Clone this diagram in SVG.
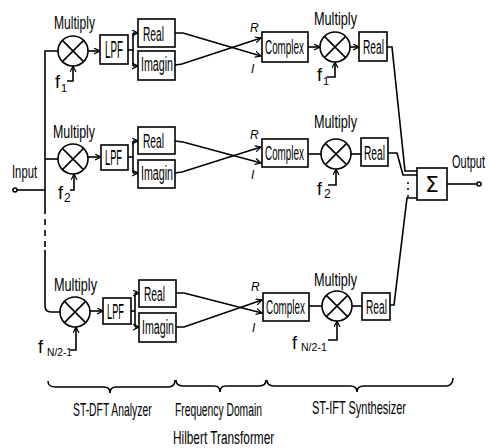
<svg xmlns="http://www.w3.org/2000/svg" width="489" height="448" viewBox="0 0 489 448">
<style>
.ln{fill:none;stroke:#000;stroke-width:1.6}
.bx{fill:#fff;stroke:#000;stroke-width:1.6}
.t{font-family:"Liberation Sans",Arial,sans-serif;fill:#000}
.mu{font-size:18px}
.rl{font-size:21px}
.cx{font-size:20px}
.lb{font-size:19px}
.sb{font-size:11px}
.ri{font-family:"Liberation Sans",Arial,sans-serif;font-style:italic;font-size:12px}
</style>
<defs>
<marker id="ah" markerWidth="7" markerHeight="7" refX="6" refY="3.5" orient="auto" markerUnits="userSpaceOnUse">
<path d="M0,0.5 L6,3.5 L0,6.5" fill="none" stroke="#000" stroke-width="1.2"/>
</marker>
</defs>
<rect width="489" height="448" fill="#fff"/>

<g id="connectors">
<path class="ln" d="M17,190 L45,190"/>
<path class="ln" d="M58,51 L45,51 L45,208"/>
<path class="ln" d="M45,208 L45,250" stroke-dasharray="6,5"/>
<path class="ln" d="M45,250 L45,306 Q45,312 51,312 L60,312"/>
<path class="ln" d="M45,159 L59,159"/>
<!-- row 1 -->
<path class="ln" d="M88,51 L100,51" marker-end="url(#ah)"/>
<path class="ln" d="M128,50 L133,50"/>
<path class="ln" d="M133,33 L133,66"/>
<path class="ln" d="M133,33 L138,33" marker-end="url(#ah)"/>
<path class="ln" d="M133,66 L138,66" marker-end="url(#ah)"/>
<path class="ln" d="M175,33 L183,33 L261,56" marker-end="url(#ah)"/>
<path class="ln" d="M175,65 L182,64 L261,38" marker-end="url(#ah)"/>
<path class="ln" d="M308,47 L320,47" marker-end="url(#ah)"/>
<path class="ln" d="M350,47 L359,47" marker-end="url(#ah)"/>
<path class="ln" d="M67,81 L73,81 L73,66" marker-end="url(#ah)"/>
<path class="ln" d="M327,77 L335,77 L335,62" marker-end="url(#ah)"/>
<!-- row 2 -->
<path class="ln" d="M88,157 L101,157" marker-end="url(#ah)"/>
<path class="ln" d="M128,157 L133,157"/>
<path class="ln" d="M133,141 L133,173"/>
<path class="ln" d="M133,141 L138,141" marker-end="url(#ah)"/>
<path class="ln" d="M133,173 L138,173" marker-end="url(#ah)"/>
<path class="ln" d="M175,141 L183,142 L261,163" marker-end="url(#ah)"/>
<path class="ln" d="M175,173 L182,172 L261,147" marker-end="url(#ah)"/>
<path class="ln" d="M308,154 L321,154"/>
<path class="ln" d="M351,154 L361,154"/>
<path class="ln" d="M70,190 L74,190 L74,174" marker-end="url(#ah)"/>
<path class="ln" d="M328,185 L336,185 L336,169" marker-end="url(#ah)"/>
<!-- row 3 -->
<path class="ln" d="M90,311 L103,311" marker-end="url(#ah)"/>
<path class="ln" d="M131,311 L135,311"/>
<path class="ln" d="M135,293 L135,327"/>
<path class="ln" d="M135,293 L139,293" marker-end="url(#ah)"/>
<path class="ln" d="M135,327 L139,327" marker-end="url(#ah)"/>
<path class="ln" d="M176,293 L184,293 L262,313" marker-end="url(#ah)"/>
<path class="ln" d="M176,327 L184,327 L262,300" marker-end="url(#ah)"/>
<path class="ln" d="M309,306 L322,306"/>
<path class="ln" d="M352,306 L362,306"/>
<path class="ln" d="M70,350 L76,350 L76,327" marker-end="url(#ah)"/>
<path class="ln" d="M328,340 L337,340 L337,321" marker-end="url(#ah)"/>
<!-- to summer -->
<path class="ln" d="M387,47 L392,47 L405,171 L417,171"/>
<path class="ln" d="M388,153 L397,153 L403,175 L417,175"/>
<path class="ln" d="M390,305 L394,305 L407,198 L417,198"/>
<path class="ln" d="M447,184 L477,184"/>
</g>

<g id="input">
<circle cx="15" cy="190" r="2" class="bx"/>
<text class="t mu" transform="translate(12,178) scale(0.625,1)">Input</text>
</g>

<g id="mult-l1">
<circle cx="73" cy="51" r="15" class="bx"/>
<path class="ln" d="M62.4,40.4 L83.6,61.6 M62.4,61.6 L83.6,40.4"/>
<text class="t mu" transform="translate(54,29) scale(0.672,1)">Multiply</text>
<text class="t mu" x="55" y="88">f</text><text class="t sb" x="61" y="92">1</text>
</g>
<g id="lpf1"><rect class="bx" x="100" y="35" width="28" height="29"/>
<text class="t" font-size="24" transform="translate(105,58) scale(0.41,1)">LPF</text></g>
<g id="real-a1"><rect class="bx" x="138" y="19" width="37" height="28"/>
<text class="t rl" transform="translate(143,40.5) scale(0.486,1)">Real</text></g>
<g id="imag1"><rect class="bx" x="138" y="51" width="37" height="29"/>
<text class="t rl" transform="translate(141,71) scale(0.508,1)">Imagin</text></g>
<g id="complex1"><rect class="bx" x="262" y="32" width="46" height="30"/>
<text class="t cx" transform="translate(265,53.5) scale(0.494,1)">Complex</text>
<text class="ri" x="250" y="32">R</text><text class="ri" x="251" y="73">I</text></g>
<g id="mult-r1">
<circle cx="335" cy="47" r="15" class="bx"/>
<path class="ln" d="M324.4,36.4 L345.6,57.6 M324.4,57.6 L345.6,36.4"/>
<text class="t mu" transform="translate(314,25) scale(0.705,1)">Multiply</text>
<text class="t mu" x="317" y="81">f</text><text class="t sb" x="323" y="85">1</text>
</g>
<g id="real-s1"><rect class="bx" x="359" y="32" width="28" height="29"/>
<text class="t rl" transform="translate(363,54) scale(0.486,1)">Real</text></g>

<g id="mult-l2">
<circle cx="73" cy="159" r="15" class="bx"/>
<path class="ln" d="M62.4,148.4 L83.6,169.6 M62.4,169.6 L83.6,148.4"/>
<text class="t mu" transform="translate(53,138) scale(0.69,1)">Multiply</text>
<text class="t mu" x="58" y="199">f</text><text class="t" font-size="12" x="64" y="202">2</text>
</g>
<g id="lpf2"><rect class="bx" x="101" y="145" width="27" height="25"/>
<text class="t" font-size="22" transform="translate(105,165) scale(0.42,1)">LPF</text></g>
<g id="real-a2"><rect class="bx" x="138" y="127" width="37" height="27"/>
<text class="t rl" transform="translate(143,148) scale(0.486,1)">Real</text></g>
<g id="imag2"><rect class="bx" x="138" y="160" width="37" height="28"/>
<text class="t rl" transform="translate(141,180) scale(0.508,1)">Imagin</text></g>
<g id="complex2"><rect class="bx" x="262" y="139" width="46" height="28"/>
<text class="t cx" transform="translate(265,160) scale(0.494,1)">Complex</text>
<text class="ri" x="250" y="139">R</text><text class="ri" x="251" y="179">I</text></g>
<g id="mult-r2">
<circle cx="336" cy="154" r="15" class="bx"/>
<path class="ln" d="M325.4,143.4 L346.6,164.6 M325.4,164.6 L346.6,143.4"/>
<text class="t mu" transform="translate(314,128) scale(0.705,1)">Multiply</text>
<text class="t mu" x="317" y="195">f</text><text class="t" font-size="12" x="324" y="198">2</text>
</g>
<g id="real-s2"><rect class="bx" x="361" y="138" width="27" height="28"/>
<text class="t rl" transform="translate(364,159.5) scale(0.486,1)">Real</text></g>

<g id="mult-l3">
<circle cx="75" cy="312" r="15" class="bx"/>
<path class="ln" d="M64.4,301.4 L85.6,322.6 M64.4,322.6 L85.6,301.4"/>
<text class="t mu" transform="translate(54,291) scale(0.705,1)">Multiply</text>
<text class="t mu" x="38" y="353">f</text><text class="t sb" transform="translate(47,356) scale(0.93,1)">N/2-1</text>
</g>
<g id="lpf3"><rect class="bx" x="103" y="298" width="28" height="26"/>
<text class="t" font-size="22" transform="translate(107,319) scale(0.42,1)">LPF</text></g>
<g id="real-a3"><rect class="bx" x="139" y="280" width="37" height="27"/>
<text class="t rl" transform="translate(144,301) scale(0.486,1)">Real</text></g>
<g id="imag3"><rect class="bx" x="139" y="313" width="37" height="29"/>
<text class="t rl" transform="translate(142,334) scale(0.508,1)">Imagin</text></g>
<g id="complex3"><rect class="bx" x="263" y="293" width="46" height="28"/>
<text class="t cx" transform="translate(266,314) scale(0.494,1)">Complex</text>
<text class="ri" x="251" y="291">R</text><text class="ri" x="252" y="332">I</text></g>
<g id="mult-r3">
<circle cx="337" cy="306" r="15" class="bx"/>
<path class="ln" d="M326.4,295.4 L347.6,316.6 M326.4,316.6 L347.6,295.4"/>
<text class="t mu" transform="translate(314,286) scale(0.705,1)">Multiply</text>
<text class="t mu" x="292" y="349">f</text><text class="t sb" transform="translate(301,351) scale(0.96,1)">N/2-1</text>
</g>
<g id="real-s3"><rect class="bx" x="362" y="293" width="28" height="27"/>
<text class="t rl" transform="translate(366,314) scale(0.486,1)">Real</text></g>

<g id="sum">
<rect class="bx" x="417" y="168" width="30" height="32"/>
<text x="432" y="192" font-family="'DejaVu Sans',sans-serif" font-size="22" text-anchor="middle">Σ</text>
<circle cx="408" cy="183" r="1" fill="#000"/>
<circle cx="408" cy="189" r="1" fill="#000"/>
<circle cx="408" cy="196" r="1" fill="#000"/>
</g>

<g id="output">
<circle cx="479" cy="184" r="2" class="bx"/>
<text class="t mu" transform="translate(452,168) scale(0.611,1)">Output</text>
</g>

<g id="braces">
<path class="ln" d="M48,381 C48,386 51,387 56,387 L104,387 C108,387 110,389 110,393 C110,389 112,387 116,387 L168,387 C172,387 175,385 175,380"/>
<path class="ln" d="M176,380 C176,385 179,386 183,386 L214,386 C218,386 220,388 220,392 C220,388 222,386 226,386 L259,386 C263,386 266,385 266,380"/>
<path class="ln" d="M267,380 C267,385 270,386 274,386 L350,386 C354,386 357,388 357,392 C357,388 360,386 364,386 L446,386 C450,386 453,383 453,378"/>
<text class="t lb" transform="translate(73,416) scale(0.545,1)">ST-DFT Analyzer</text>
<text class="t lb" transform="translate(175,416) scale(0.542,1)">Frequency Domain</text>
<text class="t lb" transform="translate(173,444) scale(0.623,1)">Hilbert Transformer</text>
<text class="t lb" transform="translate(312,414) scale(0.58,1)">ST-IFT Synthesizer</text>
</g>
</svg>
